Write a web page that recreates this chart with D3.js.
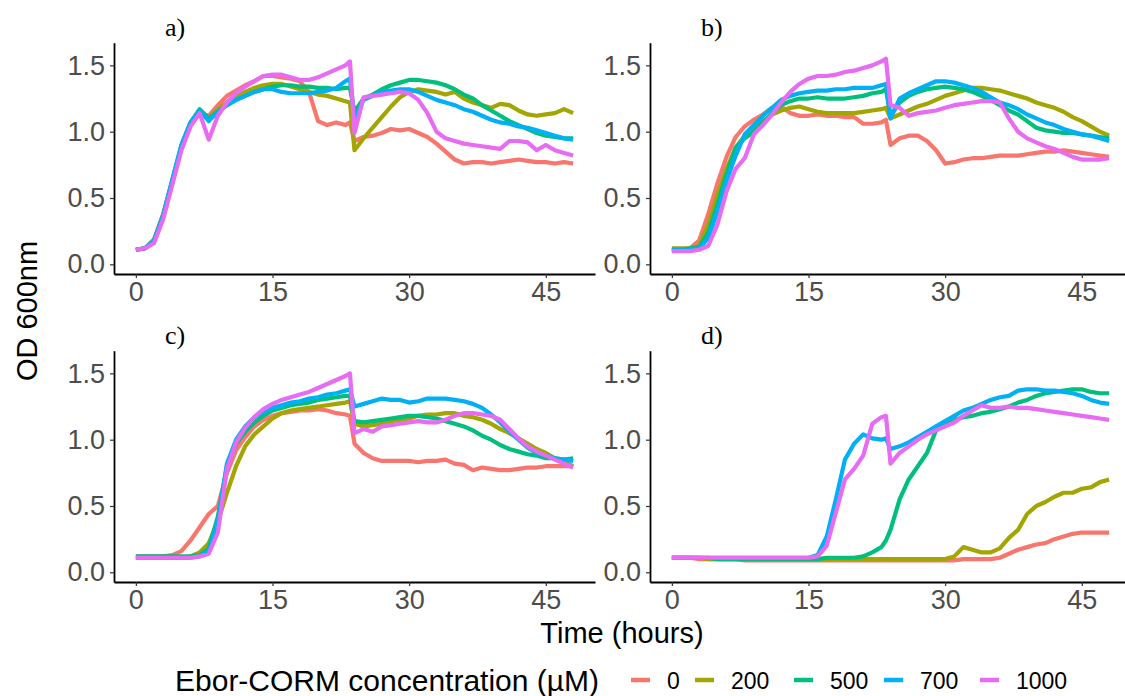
<!DOCTYPE html>
<html lang="en">
<head>
<meta charset="UTF-8">
<title>Ebor-CORM growth curves</title>
<script src="https://cdn.jsdelivr.net/npm/d3@7"></script>
<style>
    body { margin: 0; background: #fff; }
    svg { display: block; font-family: "Liberation Sans", Arial, sans-serif; }
    .tick text { fill: #4d4d4d; font-size: 27px; }
    .tick line { stroke: #333; stroke-width: 1.2; }
    .domain { stroke: #000; stroke-width: 1.8; }
    .panel-label { font-family: "Liberation Serif", "Times New Roman", serif; font-size: 26px; fill: #000; }
    .title { font-size: 29px; fill: #000; }
</style>
</head>
<body>
<div id="chart"></div>
<script>
'use strict';

// time points (hours); 23.5 added to catch the spike before the 24 h addition
const hours = [0,1,2,3,4,5,6,7,8,9,10,11,12,13,14,15,16,17,18,19,20,21,22,23,23.5,
    24,25,26,27,28,29,30,31,32,33,34,35,36,37,38,39,40,41,42,43,44,45,46,47,48];

const concentrations = ['0', '200', '500', '700', '1000'];
const colours = ['#F8766D', '#A3A500', '#00BF7D', '#00B0F6', '#E76BF3'];
const panelLabels = ['a)', 'b)', 'c)', 'd)'];
const xTicks = [0, 15, 30, 45];
const yTicks = [0, 0.5, 1.0, 1.5];

// panel a
const a0    = [0.11,0.12,0.19,0.38,0.63,0.88,1.05,1.14,1.12,1.20, 1.27,1.31,1.35,1.38,1.42,1.42,1.41,1.40,1.38,1.30,
               1.08,1.05,1.07,1.05,1.07,0.93,0.96,0.97,0.99,1.02, 1.01,1.02,0.99,0.96,0.91,0.85,0.79,0.76,0.77,0.77,
               0.76,0.77,0.78,0.79,0.78,0.77,0.77,0.76,0.77,0.76];
const a200  = [0.11,0.12,0.18,0.37,0.62,0.88,1.05,1.15,1.10,1.17, 1.22,1.27,1.30,1.33,1.35,1.36,1.36,1.34,1.32,1.30,
               1.28,1.27,1.25,1.23,1.22,0.86,0.95,1.03,1.11,1.19, 1.26,1.30,1.32,1.31,1.30,1.28,1.30,1.25,1.22,1.20,
               1.18,1.21,1.20,1.16,1.13,1.12,1.13,1.14,1.17,1.14];
const a500  = [0.11,0.12,0.18,0.37,0.63,0.90,1.07,1.17,1.10,1.15, 1.20,1.24,1.27,1.30,1.32,1.34,1.35,1.35,1.34,1.34,
               1.33,1.33,1.32,1.33,1.33,1.15,1.25,1.28,1.32,1.35, 1.37,1.39,1.39,1.38,1.37,1.35,1.32,1.28,1.25,1.20,
               1.16,1.12,1.08,1.05,1.02,0.99,0.97,0.96,0.95,0.95];
const a700  = [0.11,0.12,0.18,0.37,0.64,0.90,1.07,1.16,1.08,1.15, 1.20,1.24,1.27,1.30,1.32,1.32,1.30,1.29,1.29,1.29,
               1.30,1.31,1.33,1.38,1.40,1.10,1.24,1.27,1.30,1.31, 1.32,1.32,1.30,1.27,1.24,1.22,1.20,1.17,1.15,1.12,
               1.09,1.07,1.06,1.04,1.03,1.01,0.99,0.97,0.95,0.94];
const a1000 = [0.11,0.12,0.16,0.34,0.60,0.86,1.04,1.14,0.94,1.12, 1.22,1.29,1.34,1.38,1.42,1.43,1.43,1.41,1.39,1.39,
               1.41,1.44,1.47,1.50,1.53,0.99,1.26,1.27,1.28,1.29, 1.30,1.29,1.24,1.14,1.00,0.95,0.93,0.91,0.90,0.89,
               0.88,0.87,0.93,0.93,0.92,0.86,0.90,0.86,0.84,0.82];

// panel b
const b0    = [0.11,0.11,0.12,0.18,0.38,0.61,0.81,0.96,1.04,1.09, 1.13,1.18,1.19,1.14,1.12,1.12,1.13,1.12,1.12,1.11,
               1.11,1.06,1.06,1.07,1.09,0.90,0.95,0.97,0.97,0.93, 0.86,0.76,0.77,0.79,0.80,0.80,0.81,0.82,0.82,0.82,
               0.83,0.84,0.85,0.85,0.86,0.85,0.84,0.83,0.82,0.81];
const b200  = [0.12,0.12,0.12,0.14,0.30,0.52,0.72,0.88,0.97,1.03, 1.08,1.13,1.16,1.18,1.19,1.17,1.15,1.14,1.14,1.14,
               1.14,1.15,1.16,1.17,1.18,1.10,1.13,1.16,1.19,1.21, 1.24,1.27,1.29,1.31,1.33,1.33,1.32,1.31,1.29,1.27,
               1.25,1.22,1.20,1.18,1.15,1.11,1.08,1.04,1.00,0.97];
const b500  = [0.11,0.11,0.12,0.13,0.24,0.45,0.68,0.88,0.95,1.00, 1.07,1.14,1.20,1.23,1.25,1.25,1.26,1.25,1.25,1.25,
               1.26,1.27,1.29,1.30,1.32,1.12,1.22,1.27,1.30,1.32, 1.33,1.34,1.33,1.32,1.30,1.27,1.24,1.20,1.16,1.13,
               1.08,1.03,1.01,1.00,0.99,0.99,0.98,0.97,0.96,0.95];
const b700  = [0.11,0.11,0.11,0.12,0.20,0.40,0.63,0.82,0.98,1.05, 1.12,1.18,1.24,1.27,1.29,1.30,1.31,1.31,1.32,1.32,
               1.33,1.33,1.33,1.35,1.36,1.10,1.25,1.29,1.32,1.35, 1.38,1.38,1.37,1.35,1.33,1.30,1.26,1.22,1.20,1.17,
               1.13,1.10,1.07,1.05,1.02,1.00,0.98,0.97,0.95,0.93];
const b1000 = [0.10,0.10,0.10,0.11,0.14,0.30,0.55,0.72,0.80,0.98, 1.05,1.13,1.22,1.30,1.36,1.40,1.42,1.42,1.43,1.45,
               1.46,1.48,1.50,1.53,1.55,1.20,1.18,1.12,1.14,1.15, 1.16,1.18,1.20,1.21,1.22,1.23,1.23,1.22,1.10,1.00,
               0.95,0.92,0.89,0.87,0.84,0.81,0.79,0.79,0.79,0.80];

// panel c
const c0    = [0.12,0.12,0.12,0.12,0.13,0.16,0.24,0.34,0.44,0.50, 0.75,0.92,1.02,1.10,1.15,1.18,1.20,1.21,1.22,1.22,
               1.23,1.22,1.20,1.19,1.18,0.97,0.90,0.86,0.84,0.84, 0.84,0.84,0.83,0.84,0.84,0.85,0.82,0.81,0.77,0.79,
               0.78,0.77,0.77,0.78,0.79,0.79,0.80,0.80,0.80,0.80];
const c200  = [0.11,0.11,0.11,0.11,0.11,0.11,0.12,0.15,0.22,0.38, 0.60,0.80,0.95,1.04,1.10,1.16,1.20,1.22,1.23,1.24,
               1.25,1.26,1.27,1.28,1.29,1.12,1.10,1.11,1.12,1.14, 1.15,1.16,1.18,1.19,1.19,1.20,1.20,1.18,1.17,1.15,
               1.12,1.08,1.05,1.01,0.97,0.93,0.90,0.86,0.83,0.80];
const c500  = [0.12,0.12,0.12,0.12,0.12,0.12,0.12,0.13,0.18,0.42, 0.80,0.97,1.06,1.13,1.18,1.22,1.24,1.26,1.27,1.28,
               1.30,1.31,1.32,1.33,1.33,1.14,1.13,1.14,1.15,1.16, 1.17,1.18,1.18,1.17,1.16,1.14,1.12,1.10,1.07,1.03,
               1.00,0.96,0.93,0.91,0.89,0.88,0.86,0.86,0.85,0.86];
const c700  = [0.11,0.11,0.11,0.11,0.11,0.11,0.11,0.12,0.16,0.38, 0.82,1.00,1.10,1.17,1.21,1.24,1.26,1.28,1.29,1.31,
               1.32,1.34,1.35,1.37,1.38,1.25,1.27,1.29,1.31,1.30, 1.30,1.28,1.29,1.31,1.31,1.31,1.30,1.29,1.27,1.24,
               1.19,1.13,1.06,1.00,0.94,0.90,0.88,0.86,0.85,0.84];
const c1000 = [0.11,0.11,0.11,0.11,0.11,0.11,0.11,0.12,0.14,0.30, 0.78,0.98,1.09,1.17,1.23,1.27,1.30,1.32,1.34,1.36,
               1.39,1.42,1.45,1.48,1.50,1.05,1.08,1.06,1.10,1.11, 1.12,1.13,1.14,1.13,1.13,1.15,1.18,1.20,1.20,1.19,
               1.18,1.15,1.08,1.01,0.95,0.91,0.88,0.85,0.82,0.79];

// panel d
const d0    = [0.11,0.11,0.11,0.10,0.10,0.10,0.10,0.10,0.09,0.09, 0.09,0.09,0.09,0.09,0.09,0.09,0.09,0.09,0.09,0.09,
               0.09,0.09,0.09,0.09,0.09,0.09,0.09,0.09,0.09,0.09, 0.09,0.09,0.09,0.10,0.10,0.10,0.10,0.11,0.14,0.17,
               0.19,0.21,0.22,0.25,0.27,0.29,0.30,0.30,0.30,0.30];
const d200  = [0.11,0.11,0.11,0.11,0.10,0.10,0.10,0.10,0.10,0.10, 0.10,0.10,0.10,0.10,0.10,0.10,0.10,0.10,0.10,0.10,
               0.10,0.10,0.10,0.10,0.10,0.10,0.10,0.10,0.10,0.10, 0.10,0.10,0.12,0.19,0.17,0.15,0.15,0.18,0.26,0.32,
               0.44,0.50,0.53,0.57,0.60,0.60,0.63,0.64,0.68,0.70];
const d500  = [0.11,0.11,0.11,0.11,0.11,0.10,0.10,0.10,0.10,0.10, 0.10,0.10,0.10,0.10,0.10,0.10,0.10,0.11,0.11,0.11,
               0.11,0.12,0.15,0.19,0.24,0.32,0.55,0.70,0.80,0.90, 1.07,1.12,1.15,1.17,1.18,1.20,1.21,1.23,1.25,1.28,
               1.30,1.33,1.35,1.36,1.37,1.38,1.38,1.36,1.35,1.35];
const d700  = [0.11,0.11,0.11,0.11,0.11,0.11,0.11,0.11,0.11,0.11, 0.11,0.11,0.11,0.11,0.11,0.11,0.13,0.27,0.55,0.85,
               0.97,1.04,1.01,1.00,1.01,0.93,0.95,0.98,1.02,1.06, 1.10,1.14,1.18,1.22,1.24,1.27,1.30,1.32,1.33,1.37,
               1.38,1.38,1.37,1.37,1.36,1.35,1.33,1.30,1.28,1.27];
const d1000 = [0.11,0.11,0.11,0.11,0.11,0.11,0.11,0.11,0.11,0.11, 0.11,0.11,0.11,0.11,0.11,0.11,0.12,0.20,0.45,0.70,
               0.78,0.88,1.12,1.17,1.18,0.82,0.90,0.95,1.00,1.04, 1.07,1.10,1.13,1.18,1.22,1.26,1.24,1.24,1.25,1.24,
               1.24,1.23,1.22,1.21,1.20,1.19,1.18,1.17,1.16,1.15];

const panelSeries = [
    [a0, a200, a500, a700, a1000],
    [b0, b200, b500, b700, b1000],
    [c0, c200, c500, c700, c1000],
    [d0, d200, d500, d700, d1000]
];

// layout
const width = 1125, height = 696;
const panelW = 481, panelH = 231.3;
const panelOrigins = [[114, 42.7], [650, 42.7], [114, 350.7], [650, 350.7]];

const svg = d3.select('#chart').append('svg')
    .attr('width', width).attr('height', height);

const x = d3.scaleLinear().domain([-2.4, 50.4]).range([0, panelW]);
const y = d3.scaleLinear().domain([-0.073, 1.671]).range([panelH, 0]);

const line = d3.line()
    .x((d, i) => x(hours[i]))
    .y(d => y(d));

panelSeries.forEach(function (series, p) {
    const [ox, oy] = panelOrigins[p];
    const g = svg.append('g').attr('transform', `translate(${ox},${oy})`);

    g.selectAll('path.series')
        .data(series)
        .enter().append('path')
        .attr('class', 'series')
        .attr('d', line)
        .attr('fill', 'none')
        .attr('stroke', (d, i) => colours[i])
        .attr('stroke-width', 4.2)
        .attr('stroke-linejoin', 'round');

    g.append('g')
        .attr('transform', `translate(0,${panelH})`)
        .call(d3.axisBottom(x).tickValues(xTicks).tickSize(4).tickSizeOuter(0).tickPadding(4));

    g.append('g')
        .call(d3.axisLeft(y).tickValues(yTicks).tickFormat(d3.format('.1f'))
            .tickSize(4).tickSizeOuter(0).tickPadding(5));

    g.append('text')
        .attr('class', 'panel-label')
        .attr('x', 51)
        .attr('y', -7)
        .text(panelLabels[p]);
});

// let the css sizes win over d3's axis defaults
svg.selectAll('.tick text').attr('font-family', null);
svg.selectAll('.tick text').attr('font-size', null);

// axis titles
svg.append('text')
    .attr('class', 'title')
    .attr('x', 622).attr('y', 643)
    .attr('text-anchor', 'middle')
    .text('Time (hours)');

svg.append('text')
    .attr('class', 'title')
    .attr('transform', 'translate(37,311) rotate(-90)')
    .attr('text-anchor', 'middle')
    .text('OD 600nm');

// legend
const legendKeyX = [631, 695, 794, 884, 980];
const legend = svg.append('g');

legend.append('text')
    .attr('class', 'title')
    .attr('x', 175).attr('y', 691)
    .style('font-size', '30px')
    .text('Ebor-CORM concentration (µM)');

const items = legend.selectAll('g.item')
    .data(concentrations)
    .enter().append('g')
    .attr('class', 'item')
    .attr('transform', (d, i) => `translate(${legendKeyX[i]},680)`);

items.append('line')
    .attr('x1', 0).attr('x2', 19)
    .attr('stroke', (d, i) => colours[i])
    .attr('stroke-width', 4.5);

items.append('text')
    .attr('x', 36).attr('y', 8.5)
    .style('font-size', '23px')
    .attr('fill', '#000')
    .text(d => d);
</script>
</body>
</html>
